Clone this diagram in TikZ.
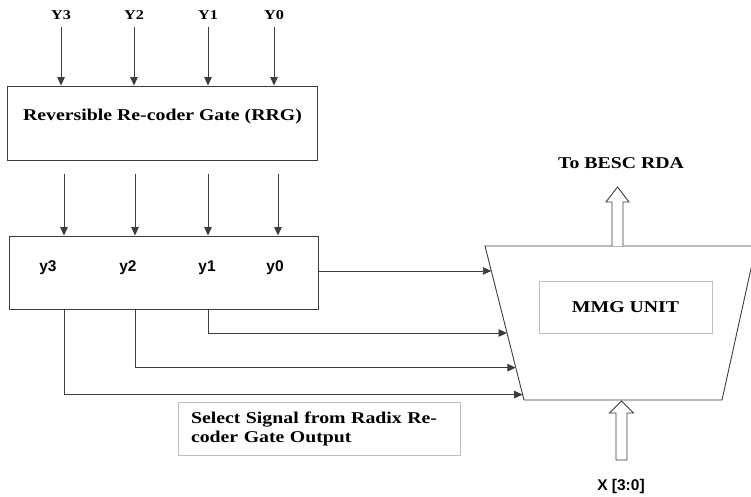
\documentclass[tikz,border=0pt]{standalone}
\usepackage{fontspec}
\setmainfont{Liberation Serif}[FakeStretch=1.2]
\setsansfont{Liberation Sans}
\usetikzlibrary{arrows.meta,calc}
\definecolor{wire}{RGB}{60,60,60}
\definecolor{frame}{RGB}{190,190,190}
\tikzset{
  unit/.style={draw=wire,line width=0.9pt,minimum width=309bp,minimum height=73bp,inner sep=0pt},
  note/.style={draw=frame,line width=1pt,inner sep=0pt},
  lbl/.style={font=\bfseries\fontsize{16.5bp}{19bp}\selectfont},
  pin/.style={font=\bfseries\fontsize{13.5bp}{16bp}\selectfont,inner ysep=7bp},
  sig/.style={font=\sffamily\bfseries\fontsize{15.5bp}{18bp}\selectfont},
  mux/.style={draw=wire,line width=0.9pt,line join=miter},
  arr/.style={-{Triangle[length=8.5bp,width=7.5bp]},draw=wire,line width=0.9pt},
  hollow/.style={draw=wire,line width=0.9pt,fill=white,line join=miter}
}

\begin{document}
\begin{tikzpicture}[x=1bp,y=-1bp]
  \useasboundingbox (0,0) rectangle (751,497);
  \clip (0,0) rectangle (751,497);

  \node[unit,minimum width=310bp,minimum height=74bp] (rrg) at (162.5,123) {};
  \node[lbl] (rrgtxt) at ($(rrg.center)+(0,-6)$) {Reversible Re-coder Gate (RRG)};
  \node[unit] (rec) at (163.5,272.5) {};

  \foreach \n/\x in {3/61,2/134,1/208,0/274}
    \node[pin] (Y\n) at (\x,15) {Y\n};
  \foreach \n/\x in {3/48,2/128,1/207,0/275}
    \node[sig] (y\n) at (\x,268) {y\n};
  \foreach \n/\x in {3/64,2/135,1/208,0/278}
    \coordinate (s\n) at (\x,174);

  \foreach \n in {3,2,1,0}{
    \draw[arr] (Y\n.south) -- (Y\n.south |- rrg.north);
    \draw[arr] (s\n) -- (s\n |- rec.north);
  }

  % MMG block
  \coordinate (mtl) at (485,246);
  \coordinate (mtr) at (756,246);
  \coordinate (mbr) at (722,400);
  \coordinate (mbl) at (524,400);
  \draw[mux] (mtl) -- (mtr) -- (mbr) -- (mbl) -- cycle;
  \node[note,lbl,minimum width=173bp,minimum height=52bp] (mmg) at (625.5,307) {MMG UNIT};

  \coordinate (in0) at ($(mtl)!0.162!(mbl)$);
  \coordinate (in1) at ($(mtl)!0.565!(mbl)$);
  \coordinate (in2) at ($(mtl)!0.79!(mbl)$);
  \coordinate (in3) at ($(mtl)!0.965!(mbl)$);
  \draw[arr] (rec.east |- in0) -- (in0);
  \foreach \n in {1,2,3}
    \draw[arr] (s\n |- rec.south) |- (in\n);

  \coordinate (out) at (617.5,246);
  \draw[hollow] (out) ++(-5.5,0) -- ++(0,-44) -- ++(-6,0) -- ++(11.5,-15)
    -- ++(11.5,15) -- ++(-6,0) -- ++(0,44);
  \node[lbl] (besc) at (621,163) {To BESC RDA};

  \coordinate (xin) at (621.5,401);
  \draw[hollow] (xin) -- ++(12,12) -- ++(-6.5,0) -- ++(0,47) -- ++(-11,0)
    -- ++(0,-47) -- ++(-6.5,0) -- cycle;
  \node[sig] (xbus) at (621,486) {X [3:0]};

  \node[note,lbl,minimum width=282bp,minimum height=53bp,text width=256bp,
    align=left] (sel) at (319,428.5) {Select Signal from Radix Re-\\coder Gate Output};
\end{tikzpicture}
\end{document}
